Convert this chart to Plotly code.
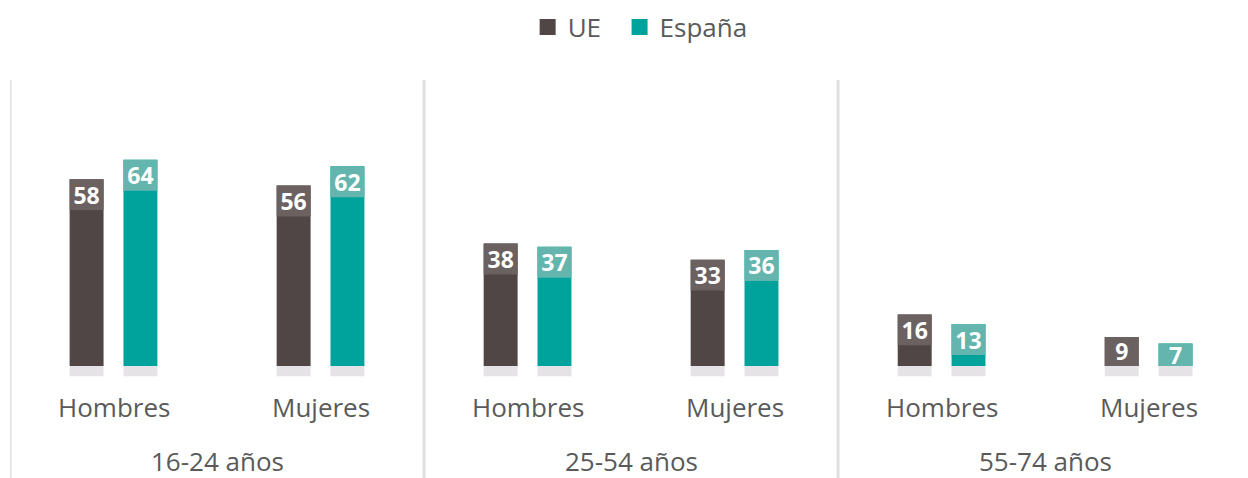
import plotly.graph_objects as go

groups = ["16-24 años", "25-54 años", "55-74 años"]
genders = ["Hombres", "Mujeres"]
ue = [58, 56, 38, 33, 16, 9]
espana = [64, 62, 37, 36, 13, 7]

C_UE = "#504646"
C_UE_L = "#6c6161"
C_ES = "#00a39b"
C_ES_L = "#63b5ad"
C_BASE = "#e5e3e6"
TXT = "#5a5a5a"
FONT = "Open Sans"

slots = list(range(len(ue)))
off = 0.13
bw = 0.164
boxh = 9.6
base_h = 3.2

fig = go.Figure()

def add_series(vals, sign, col, col_l, name):
    xs = [s + sign * off for s in slots]
    fig.add_trace(go.Bar(x=xs, y=vals, width=bw, marker=dict(color=col, line=dict(width=0)),
                         showlegend=False, hoverinfo="skip"))
    bh = [min(v, boxh) for v in vals]
    fig.add_trace(go.Bar(x=xs, y=bh, base=[v - b for v, b in zip(vals, bh)], width=bw,
                         marker=dict(color=col_l, line=dict(width=0)),
                         text=[str(v) for v in vals], textposition="inside", textangle=0,
                         insidetextanchor="middle", constraintext="none",
                         textfont=dict(color="white", size=23, family=FONT, weight="bold"),
                         showlegend=False, hoverinfo="skip"))
    fig.add_trace(go.Bar(x=xs, y=[base_h] * len(vals), base=[-base_h] * len(vals), width=bw,
                         marker=dict(color=C_BASE, line=dict(width=0)),
                         showlegend=False, hoverinfo="skip"))
    fig.add_trace(go.Scatter(x=[None], y=[None], mode="markers", name=name,
                             marker=dict(symbol="square", size=18, color=col)))

add_series(ue, -1, C_UE, C_UE_L, "UE\u00a0\u00a0")
add_series(espana, 1, C_ES, C_ES_L, "España")

annotations = []
for i, s in enumerate(slots):
    annotations.append(dict(x=s, y=-12.7, xref="x", yref="y", text=genders[i % 2],
                            showarrow=False, font=dict(size=26, color=TXT, family=FONT)))
for g, name in enumerate(groups):
    annotations.append(dict(x=2 * g + 0.5, y=-29.4, xref="x", yref="y", text=name,
                            showarrow=False, font=dict(size=26, color=TXT, family=FONT)))

shapes = []
for g in range(len(groups)):
    shapes.append(dict(type="line", xref="x", yref="paper", x0=2 * g - 0.5, x1=2 * g - 0.5,
                       y0=0, y1=1, line=dict(color="#e0e0e0", width=3)))

fig.update_layout(
    width=1248, height=478,
    margin=dict(l=10, r=0, t=80, b=0),
    paper_bgcolor="white", plot_bgcolor="white",
    barmode="overlay",
    xaxis=dict(range=[-0.5, 5.48], visible=False, fixedrange=True),
    yaxis=dict(range=[-34.8, 88.8], visible=False, fixedrange=True),
    showlegend=True,
    legend=dict(orientation="h", x=0.509, xanchor="center", y=1.133, yanchor="middle",
                font=dict(size=26, color=TXT, family=FONT), itemwidth=30),
    annotations=annotations,
    shapes=shapes,
)

fig.write_html("out.html", config={"displayModeBar": False},
               post_script="document.body.style.margin='0';document.body.style.overflow='hidden';")
